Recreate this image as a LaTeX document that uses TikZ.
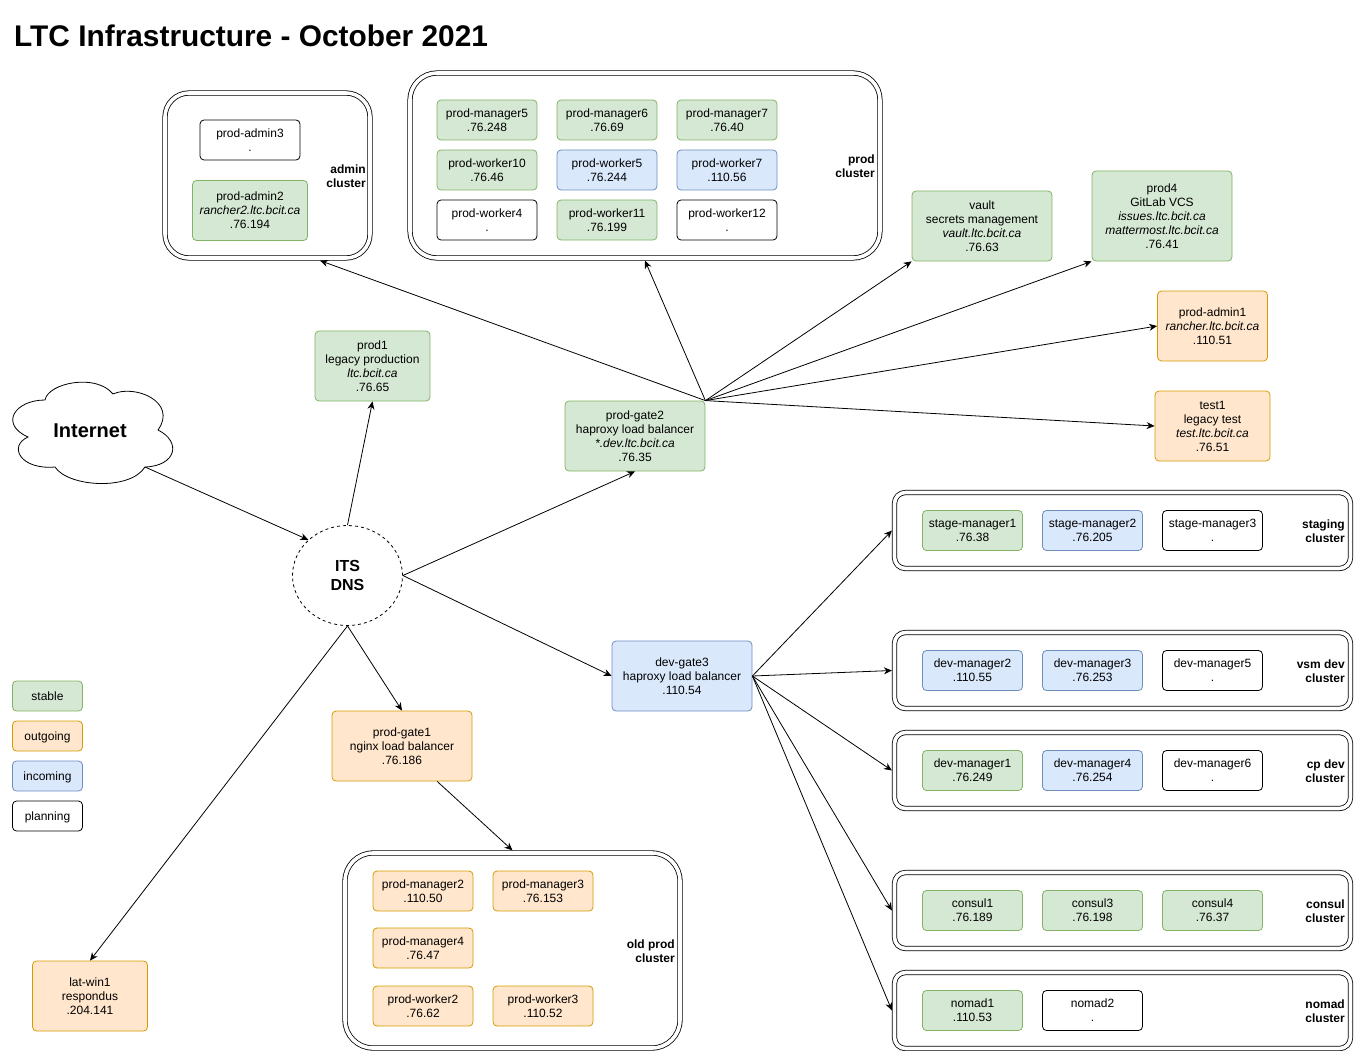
\documentclass[tikz,border=0pt]{standalone}
\usepackage{fontspec}
\setmainfont{Liberation Sans}
\usetikzlibrary{arrows.meta,calc,shapes.geometric}
\definecolor{stablefill}{HTML}{D5E8D4}
\definecolor{stableline}{HTML}{82B366}
\definecolor{outfill}{HTML}{FFE6CC}
\definecolor{outline}{HTML}{D79B00}
\definecolor{infill}{HTML}{DAE8FC}
\definecolor{inline}{HTML}{6C8EBF}
\tikzset{
  hostbox/.style={rectangle,rounded corners=4pt,line width=0.8pt,inner sep=0pt,align=center,
    minimum width=100,minimum height=40,font=\fontsize{12}{14}\selectfont},
  stable/.style={hostbox,fill=stablefill,draw=stableline},
  outgoing/.style={hostbox,fill=outfill,draw=outline},
  incoming/.style={hostbox,fill=infill,draw=inline},
  planning/.style={hostbox,fill=white,draw=black},
  lowtext/.style={execute at begin node={\rule{0pt}{11pt}}},
  clusterbox/.style n args={3}{rectangle,draw=black,line width=0.8pt,double=white,double distance=3.6pt,
    outer sep=2.6pt,minimum width=#1-4,minimum height=#2-4,rounded corners=#3},
  clustertext/.style={anchor=east,align=right,inner sep=0pt,font=\fontsize{12}{14}\selectfont\bfseries},
  link/.style={->,line width=0.8pt}
}
\begin{document}
\begin{tikzpicture}[x=1pt,y=-1pt,>={Stealth[length=8pt,width=7pt]}]
  \useasboundingbox (0,0) rectangle (1354,1051);
  \node[anchor=west,inner sep=0pt,font=\fontsize{29.85}{34}\selectfont\bfseries] (title) at (14,36) {LTC Infrastructure - October 2021};

  \node[clusterbox={209}{169}{24}] (admin) at (267.5,175.5) {};
  \node[clusterbox={474}{189}{27}] (prod) at (645,165.5) {};
  \node[clusterbox={339}{199}{28}] (oldprod) at (512.5,950.5) {};
  \foreach \n/\y in {staging/530.5,vsmdev/670.5,cpdev/770.5,consul/910.5,nomad/1010.5}
    \node[clusterbox={460}{80}{11}] (\n) at (1122.5,\y) {};

  \foreach \n/\x/\y/\t in {admintext/366/176/admin\\cluster,prodtext/875/166/prod\\cluster,
      oldtext/675/951/old prod\\cluster,stagingtext/1345/531/staging\\cluster,
      vsmtext/1345/671/vsm dev\\cluster,cptext/1345/771/cp dev\\cluster,
      consultext/1345/911/consul\\cluster,nomadtext/1345/1011/nomad\\cluster}
    \node[clustertext] (\n) at (\x,\y) {\t};

  \foreach \n/\x/\y/\t in {pm5/487/120/prod-manager5\\.76.248,pm6/607/120/prod-manager6\\.76.69,
      pm7/727/120/prod-manager7\\.76.40,pw10/487/170/prod-worker10\\.76.46,
      pw11/607/220/prod-worker11\\.76.199,sm1/972.5/530.5/stage-manager1\\.76.38,
      dm1/972.5/770.5/dev-manager1\\.76.249,consul1/972.5/910.5/consul1\\.76.189,
      consul3/1092.5/910.5/consul3\\.76.198,consul4/1212.5/910.5/consul4\\.76.37,
      nomad1/972.5/1010.5/nomad1\\.110.53}
    \node[stable,lowtext] (\n) at (\x,\y) {\t};
  \foreach \n/\x/\y/\t in {pw5/607/170/prod-worker5\\.76.244,pw7/727/170/prod-worker7\\.110.56,
      sm2/1092.5/530.5/stage-manager2\\.76.205,dm2/972.5/670.5/dev-manager2\\.110.55,
      dm3/1092.5/670.5/dev-manager3\\.76.253,dm4/1092.5/770.5/dev-manager4\\.76.254}
    \node[incoming,lowtext] (\n) at (\x,\y) {\t};
  \foreach \n/\x/\y/\t in {pa3/250/140/prod-admin3\\.,pw4/487/220/prod-worker4\\.,
      pw12/727/220/prod-worker12\\.,sm3/1212.5/530.5/stage-manager3\\.,
      dm5/1212.5/670.5/dev-manager5\\.,dm6/1212.5/770.5/dev-manager6\\.,
      nomad2/1092.5/1010.5/nomad2\\.}
    \node[planning,lowtext] (\n) at (\x,\y) {\t};
  \foreach \n/\x/\y/\t in {pm2/423/891/prod-manager2\\.110.50,pm3/543/891/prod-manager3\\.76.153,
      pm4/423/948/prod-manager4\\.76.47,pw2/423/1006/prod-worker2\\.76.62,
      pw3/543/1006/prod-worker3\\.110.52}
    \node[outgoing,lowtext] (\n) at (\x,\y) {\t};

  \node[stable,lowtext,minimum width=115,minimum height=60] (pa2) at (250,210.5) {prod-admin2\\\textit{rancher2.ltc.bcit.ca}\\.76.194};
  \node[stable,minimum width=140,minimum height=70] (vault) at (982,226) {vault\\secrets management\\\textit{vault.ltc.bcit.ca}\\.76.63};
  \node[stable,minimum width=140,minimum height=90] (prod4) at (1162,216) {prod4\\GitLab VCS\\\textit{issues.ltc.bcit.ca}\\\textit{mattermost.ltc.bcit.ca}\\.76.41};
  \node[stable,minimum width=115,minimum height=70] (prod1) at (372.5,366) {prod1\\legacy production\\\textit{ltc.bcit.ca}\\.76.65};
  \node[stable,minimum width=140,minimum height=70] (gate2) at (635,436) {prod-gate2\\haproxy load balancer\\\textit{*.dev.ltc.bcit.ca}\\.76.35};
  \node[outgoing,minimum width=110,minimum height=70] (pa1) at (1212.5,326) {prod-admin1\\\textit{rancher.ltc.bcit.ca}\\.110.51};
  \node[outgoing,minimum width=115,minimum height=70] (test1) at (1212.5,426) {test1\\legacy test\\\textit{test.ltc.bcit.ca}\\.76.51};
  \node[incoming,minimum width=140,minimum height=70] (gate3) at (682,676) {dev-gate3\\haproxy load balancer\\.110.54};
  \node[outgoing,minimum width=140,minimum height=70] (gate1) at (402,746) {prod-gate1\\nginx load balancer\\.76.186};
  \node[outgoing,minimum width=115,minimum height=70] (latwin) at (90,996) {lat-win1\\respondus\\.204.141};

  \node[stable,minimum width=70,minimum height=30] (keystable) at (47.5,696) {stable};
  \node[outgoing,lowtext,minimum width=70,minimum height=30] (keyout) at (47.5,736) {outgoing};
  \node[incoming,lowtext,minimum width=70,minimum height=30] (keyin) at (47.5,776) {incoming};
  \node[planning,lowtext,minimum width=70,minimum height=30] (keyplan) at (47.5,816) {planning};

  \draw[line width=0.8pt,fill=white] (45,400) .. controls (48,383) and (96,373) .. (113,394)
    .. controls (135,384) and (178,402) .. (158,430)
    .. controls (182,442) and (176,466) .. (145,467)
    .. controls (130,491) and (68,487) .. (55,467)
    .. controls (20,470) and (8,446) .. (28,437)
    .. controls (-1,424) and (15,400) .. (45,400) -- cycle;
  \node[inner sep=0pt,font=\fontsize{20}{24}\selectfont\bfseries] (internet) at (90,431) {Internet};
  \coordinate (cloudexit) at (145,467);

  \node[ellipse,draw=black,dashed,line width=0.8pt,minimum width=110,minimum height=100,inner sep=0pt,
    align=center,font=\fontsize{16}{19}\selectfont\bfseries] (dns) at (347.5,575.5) {ITS\\DNS};

  \draw[link] (cloudexit) -- (dns.north west);
  \draw[link] (dns.north) -- (prod1.south);
  \draw[link] (dns.east) -- (gate2.south);
  \draw[link] (dns.east) -- (gate3.west);
  \draw[link] (dns.south) -- (gate1.north);
  \draw[link] (dns.south) -- (latwin.north);
  \draw[link] ($(gate1.south west)!0.75!(gate1.south east)$) -- (oldprod.north);

  \draw[link] (gate2.north east) -- ($(admin.south west)!0.75!(admin.south east)$);
  \draw[link] (gate2.north east) -- (prod.south);
  \draw[link] (gate2.north east) -- (vault.south west);
  \draw[link] (gate2.north east) -- (prod4.south west);
  \draw[link] (gate2.north east) -- (pa1.west);
  \draw[link] (gate2.north east) -- (test1.west);

  \foreach \n in {staging,vsmdev,cpdev,consul,nomad}
    \draw[link] (gate3.east) -- (\n.west);
\end{tikzpicture}
\end{document}
